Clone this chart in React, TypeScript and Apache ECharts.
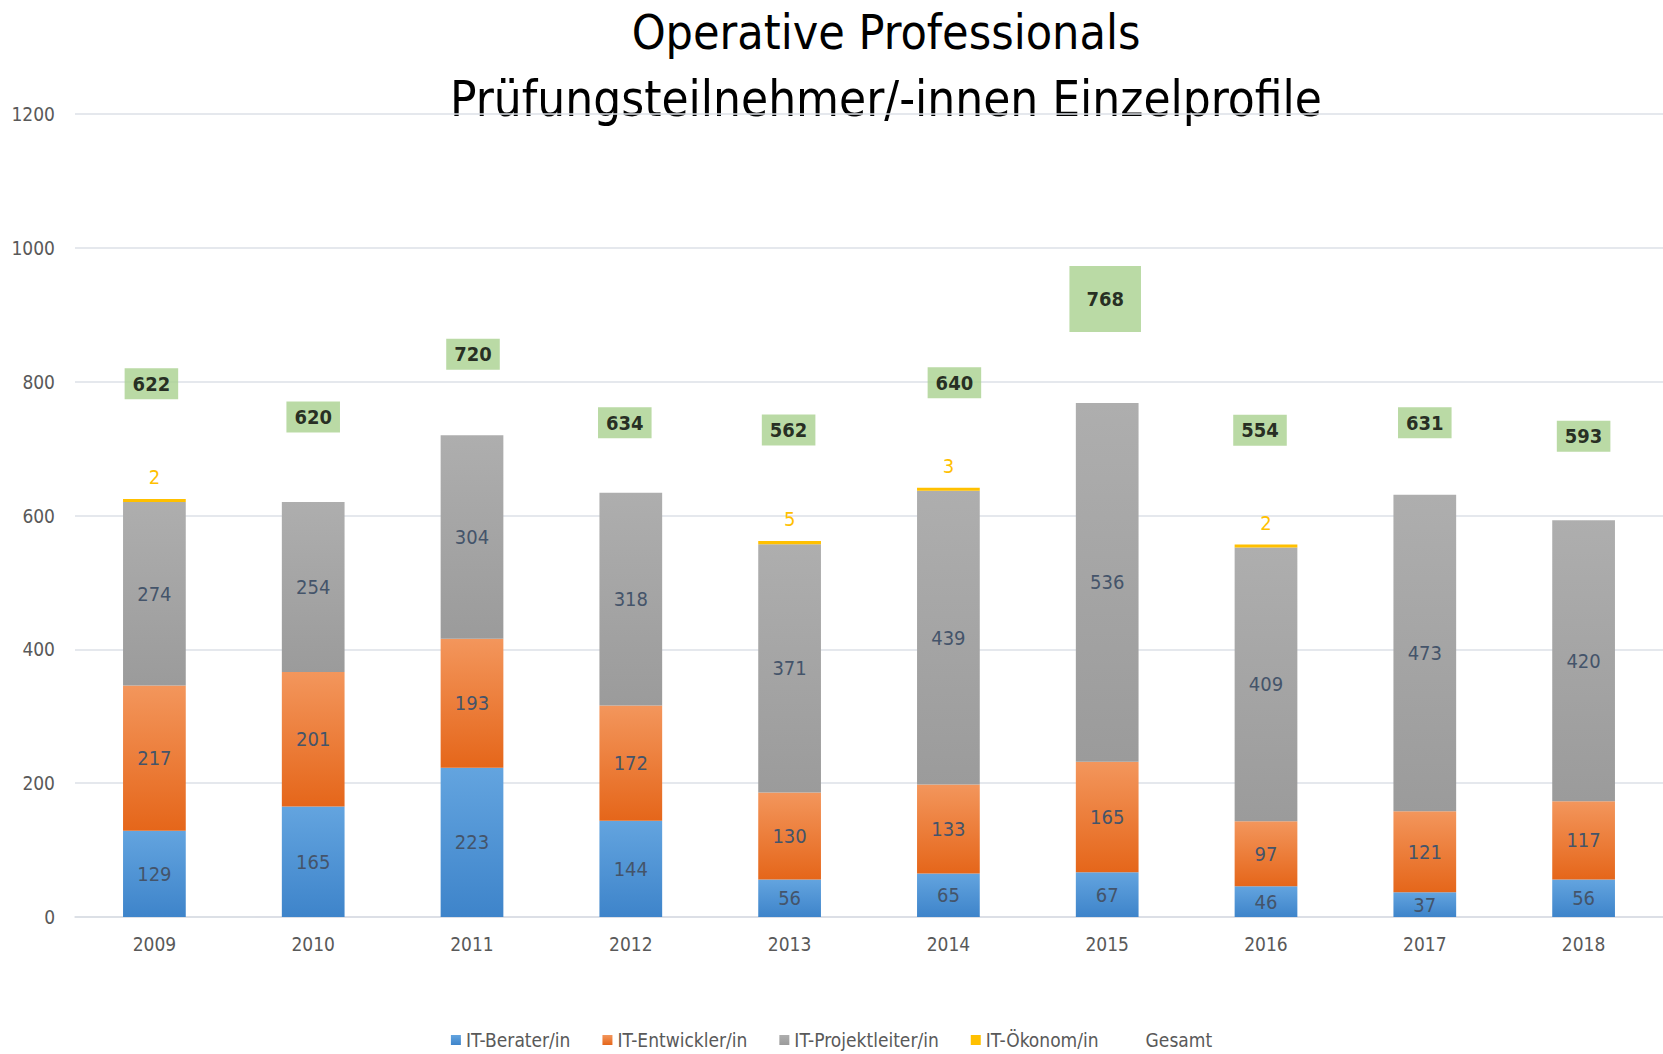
import React, { useEffect, useRef } from "react";
import * as echarts from "echarts";

const years = ["2009", "2010", "2011", "2012", "2013", "2014", "2015", "2016", "2017", "2018"];
const berater = [129, 165, 223, 144, 56, 65, 67, 46, 37, 56];
const entwickler = [217, 201, 193, 172, 130, 133, 165, 97, 121, 117];
const projektleiter = [274, 254, 304, 318, 371, 439, 536, 409, 473, 420];
const oekonom: (number | null)[] = [2, null, null, null, 5, 3, null, 2, null, null];
const gesamt = [622, 620, 720, 634, 562, 640, 768, 554, 631, 593];
// manual label placement of the "Gesamt" boxes (pixel offsets, as in the source chart)
const gesamtLabelOffsets = [
  [-3, -117], [0, -85], [1, -81], [-6, -70], [-1, -111],
  [6, -106], [-2, -104], [-6, -116], [0, -72], [0, -84],
];

const FONT = "'Liberation Sans Narrow', 'DejaVu Sans Condensed', 'Open Sans', sans-serif";

const grad = (top: string, bottom: string) =>
  new echarts.graphic.LinearGradient(0, 0, 0, 1, [
    { offset: 0, color: top },
    { offset: 1, color: bottom },
  ]);

export default function App() {
  const ref = useRef<HTMLDivElement>(null);
  useEffect(() => {
    if (!ref.current) return;
    const chart = echarts.init(ref.current, undefined, { renderer: "svg" });
    const innerLabel = {
      show: true,
      position: "inside",
      color: "#44546A",
      fontSize: 20,
      fontFamily: FONT,
    };
    chart.setOption({
      animation: false,
      backgroundColor: "#ffffff",
      textStyle: { fontFamily: FONT },
      grid: { left: 75, right: 0, top: 114, bottom: 137, containLabel: false },
      graphic: [
        {
          type: "text",
          x: 886,
          y: 32,
          style: {
            text: "Operative Professionals",
            fontSize: 48,
            fontFamily: FONT,
            fill: "#000000",
            textAlign: "center",
            textVerticalAlign: "middle",
          },
        },
        {
          type: "text",
          x: 886,
          y: 99,
          style: {
            text: "Prüfungsteilnehmer/-innen Einzelprofile",
            fontSize: 49,
            fontFamily: FONT,
            fill: "#000000",
            textAlign: "center",
            textVerticalAlign: "middle",
          },
        },
      ],
      legend: {
        top: 1029,
        left: "center",
        padding: 0,
        itemWidth: 10,
        itemHeight: 10,
        itemGap: 32,
        textStyle: { color: "#595959", fontSize: 19, lineHeight: 22, fontFamily: FONT },
        data: [
          { name: "IT-Berater/in", icon: "rect" },
          { name: "IT-Entwickler/in", icon: "rect" },
          { name: "IT-Projektleiter/in", icon: "rect" },
          { name: "IT-Ökonom/in", icon: "rect" },
          { name: "Gesamt", icon: "rect", itemStyle: { color: "rgba(0,0,0,0)" } },
        ],
      },
      xAxis: {
        type: "category",
        data: years,
        axisLine: { show: true, lineStyle: { color: "#d9dde3", width: 1.5 } },
        axisTick: { show: false },
        axisLabel: { color: "#595959", fontSize: 19, margin: 17, fontFamily: FONT },
      },
      yAxis: {
        type: "value",
        min: 0,
        max: 1200,
        interval: 200,
        axisLine: { show: false },
        axisTick: { show: false },
        splitLine: { lineStyle: { color: "#dde1e7", width: 1.5 } },
        axisLabel: {
          color: "#595959",
          fontSize: 19,
          margin: 20,
          fontFamily: FONT,
          formatter: (v: number) => String(v),
        },
      },
      series: [
        {
          name: "IT-Berater/in",
          type: "bar",
          stack: "total",
          barWidth: "39.5%",
          data: berater,
          itemStyle: { color: grad("#63a4df", "#3e84ca") },
          label: innerLabel,
        },
        {
          name: "IT-Entwickler/in",
          type: "bar",
          stack: "total",
          data: entwickler,
          itemStyle: { color: grad("#f3965c", "#e5661a") },
          label: innerLabel,
        },
        {
          name: "IT-Projektleiter/in",
          type: "bar",
          stack: "total",
          data: projektleiter,
          itemStyle: { color: grad("#aeaeae", "#9b9b9b") },
          label: innerLabel,
        },
        {
          name: "IT-Ökonom/in",
          type: "bar",
          stack: "total",
          barMinHeight: 3,
          data: oekonom.map((v) => (v == null ? "-" : v)),
          itemStyle: { color: "#FFC000" },
          label: {
            show: true,
            position: "top",
            distance: 12,
            color: "#FFC000",
            fontSize: 20,
            fontFamily: FONT,
          },
        },
        {
          name: "Gesamt",
          type: "scatter",
          symbolSize: 1,
          itemStyle: { color: "rgba(0,0,0,0)" },
          data: gesamt.map((v, i) => ({
            value: v,
            label: {
              offset: gesamtLabelOffsets[i],
              padding: v === 768 ? [24, 17, 22, 17] : [6, 8, 5, 8],
            },
          })),
          label: {
            show: true,
            position: "inside",
            color: "#000000",
            fontWeight: "bold",
            fontSize: 20,
            fontFamily: FONT,
            backgroundColor: "#A9D18E",
          },
        },
      ],
    });
    return () => chart.dispose();
  }, []);
  return (
    <div
      ref={ref}
      style={{ position: "fixed", left: 0, top: 0, width: 1663, height: 1054 }}
    />
  );
}
